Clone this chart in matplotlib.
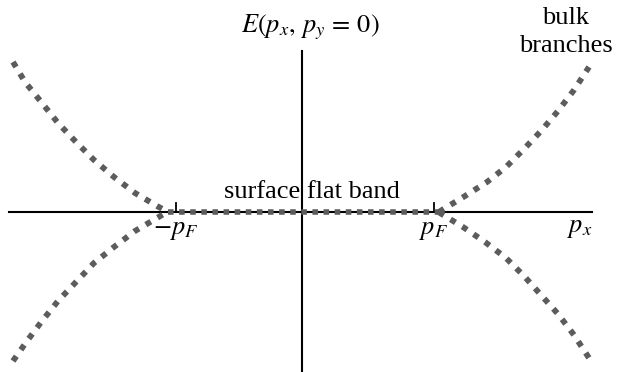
import matplotlib
matplotlib.use("Agg")
import matplotlib.pyplot as plt

plt.rcParams["font.family"] = ["Liberation Serif", "DejaVu Serif"]
plt.rcParams["mathtext.fontset"] = "stix"

# Dispersion branches E(p_x) read as (p_x, E) samples
upper_left_p = [-2.89, -2.77, -2.60, -2.44, -2.26, -2.08, -1.88, -1.67, -1.45, -1.34]
upper_left_E = [1.50, 1.30, 1.09, 0.89, 0.70, 0.52, 0.35, 0.19, 0.06, 0.00]
lower_left_p = [-2.89, -2.75, -2.60, -2.44, -2.26, -2.08, -1.88, -1.67, -1.45, -1.35]
lower_left_E = [-1.49, -1.29, -1.09, -0.89, -0.70, -0.51, -0.35, -0.19, -0.06, 0.00]
upper_right_p = [1.37, 1.40, 1.63, 1.85, 2.04, 2.22, 2.39, 2.56, 2.72, 2.87]
upper_right_E = [0.00, 0.02, 0.16, 0.30, 0.45, 0.63, 0.81, 1.01, 1.22, 1.45]
lower_right_p = [1.37, 1.38, 1.61, 1.83, 2.04, 2.22, 2.39, 2.56, 2.72, 2.87]
lower_right_E = [0.00, -0.01, -0.15, -0.30, -0.46, -0.64, -0.83, -1.02, -1.23, -1.46]

# Surface flat band between the Fermi points
flat_p = [-1.34, 1.37]
flat_E = [0.0, 0.0]

# Tick positions for -p_F and p_F
tick_p = [-1.26, 1.32]
tick_labels = [r"$-p_F$", r"$p_F$"]

fig = plt.figure(figsize=(6.18, 3.72), dpi=100)
ax = fig.add_axes([0, 0, 1, 1])
ax.set_xlim(-3.02, 3.16)
ax.set_ylim(-1.60, 2.12)
ax.axis("off")

# Coordinate axes
ax.plot([-2.93, 2.90], [0, 0], color="black", lw=1.5, zorder=2)
ax.plot([0, 0], [-1.60, 1.61], color="black", lw=1.5, zorder=2)
for tp in tick_p:
    ax.plot([tp, tp], [0, 0.09], color="black", lw=1.3, zorder=2)

gray = "#5c5c5c"
curve_style = dict(color=gray, lw=4.2, linestyle=(0, (1.0, 1.35)),
                   solid_capstyle="butt", dash_capstyle="butt", zorder=3)
for p, E in [(upper_left_p, upper_left_E), (lower_left_p, lower_left_E),
             (upper_right_p, upper_right_E), (lower_right_p, lower_right_E)]:
    ax.plot(p, E, **curve_style)

ax.plot(flat_p, flat_E, color=gray, lw=4.0, linestyle=(0, (1.0, 1.0)),
        dash_capstyle="butt", zorder=3)

fs = 19
for tp, lab in zip(tick_p, tick_labels):
    ax.text(tp, -0.08, lab, ha="center", va="top", fontsize=fs)

ax.text(2.78, -0.06, r"$p_x$", ha="center", va="top", fontsize=fs)
ax.text(0.08, 1.80, r"$E(p_x,\, p_y\, =\, 0)$", ha="center", va="baseline", fontsize=fs)
ax.text(0.10, 0.14, "surface flat band", ha="center", va="baseline", fontsize=fs)
ax.text(2.64, 1.88, "bulk", ha="center", va="baseline", fontsize=fs)
ax.text(2.64, 1.60, "branches", ha="center", va="baseline", fontsize=fs)

fig.savefig("out.png", dpi=100)
